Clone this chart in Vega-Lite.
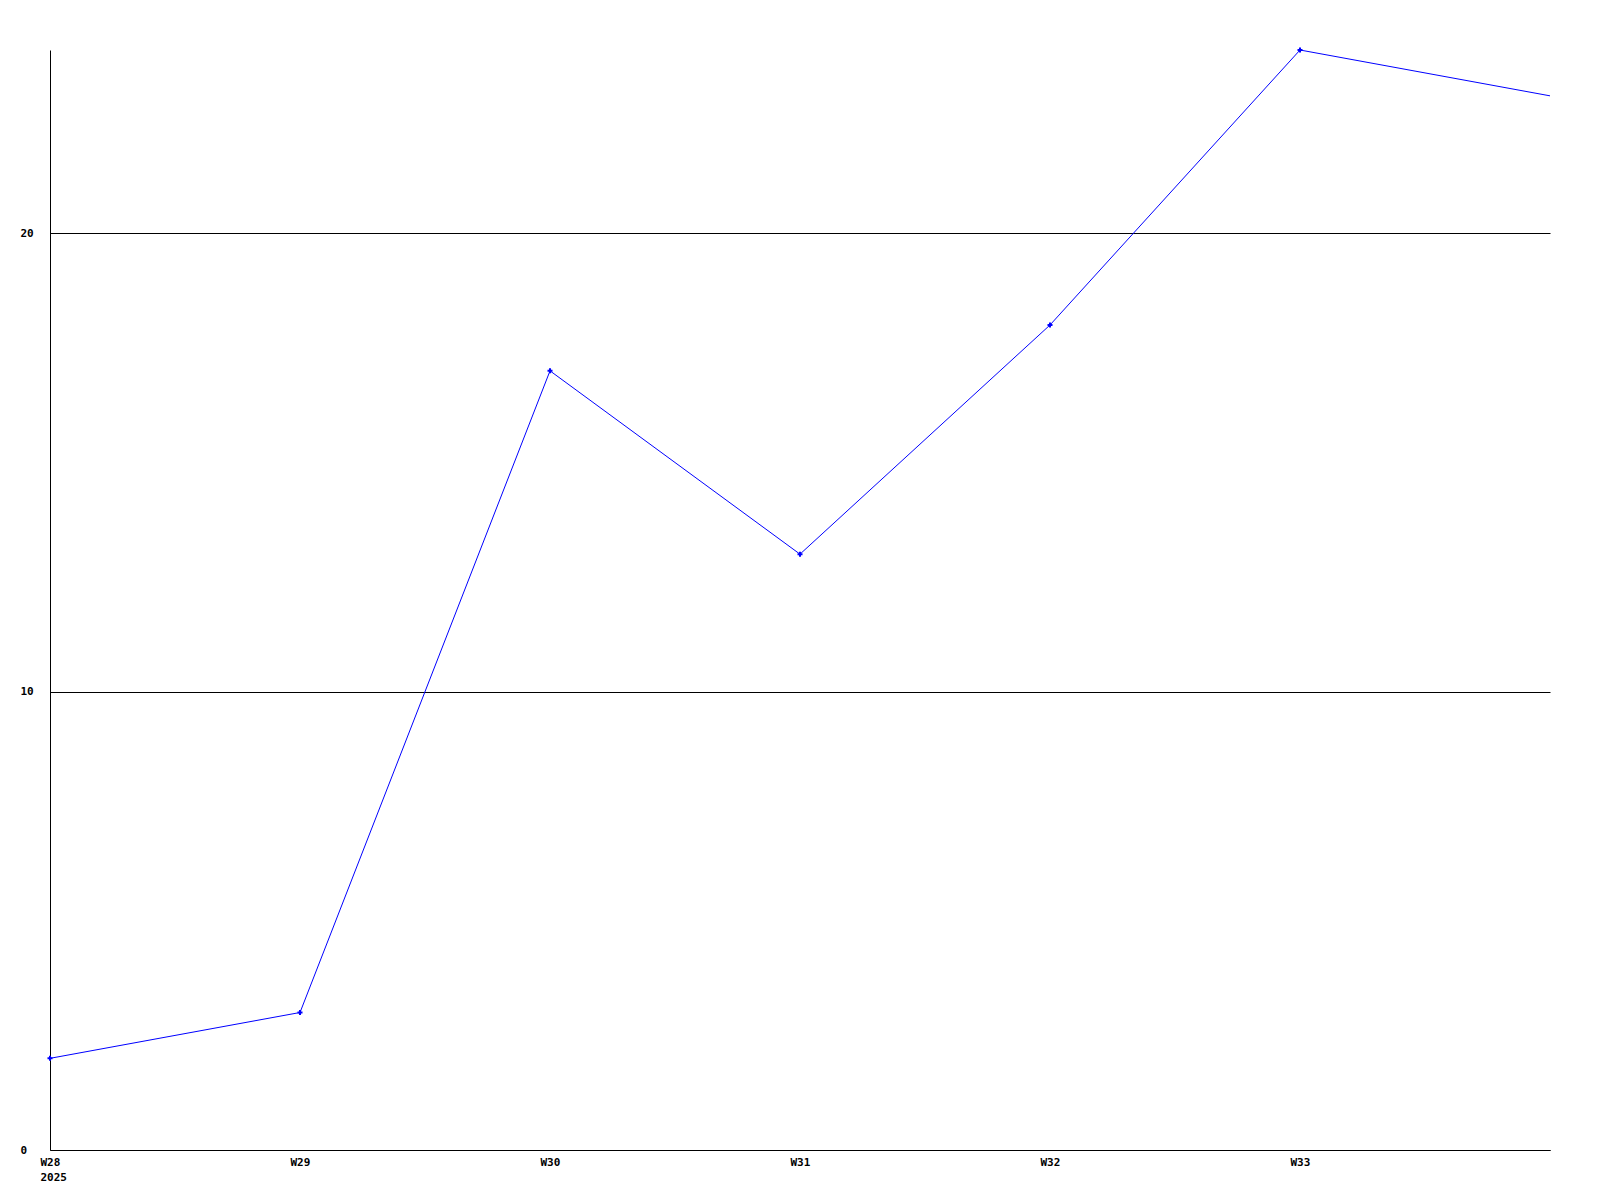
{
  "$schema": "https://vega.github.io/schema/vega-lite/v6.json",
  "autosize": {"type": "none"},
  "padding": {"left": 50, "top": 50, "right": 50, "bottom": 50},
  "width": 1500,
  "height": 1100,
  "background": "white",
  "config": {
    "view": {"stroke": null},
    "axis": {
      "labelFont": "DejaVu Sans Mono",
      "labelFontWeight": "bold",
      "labelFontSize": 11,
      "labelColor": "black",
      "domainColor": "black",
      "domainWidth": 1,
      "ticks": false,
      "title": null
    }
  },
  "data": {
    "values": [
      {"week": 28, "value": 2},
      {"week": 29, "value": 3},
      {"week": 30, "value": 17},
      {"week": 31, "value": 13},
      {"week": 32, "value": 18},
      {"week": 33, "value": 24},
      {"week": 34, "value": 23}
    ]
  },
  "encoding": {
    "x": {
      "field": "week",
      "type": "quantitative",
      "scale": {"domain": [28, 34], "nice": false, "zero": false},
      "axis": {
        "values": [28, 29, 30, 31, 32, 33],
        "grid": false,
        "labelAlign": "left",
        "labelOffset": -10,
        "labelBaseline": "top",
        "labelPadding": 6,
        "labelLineHeight": 15,
        "labelExpr": "datum.value == 28 ? ['W28', '2025'] : 'W' + datum.value",
        "labelFlush": false,
        "labelOverlap": false
      }
    },
    "y": {
      "field": "value",
      "type": "quantitative",
      "scale": {"domain": [0, 24], "nice": false},
      "axis": {
        "values": [0, 10, 20],
        "grid": true,
        "gridColor": "black",
        "gridOpacity": 1,
        "gridWidth": 1,
        "labelAlign": "left",
        "labelBaseline": "middle",
        "labelPadding": 30,
        "labelFlush": false
      }
    }
  },
  "layer": [
    {
      "mark": {"type": "line", "color": "#0000ff", "strokeWidth": 1}
    },
    {
      "transform": [{"filter": "datum.week < 34"}],
      "mark": {"type": "point", "shape": "cross", "size": 25, "filled": true, "color": "#0000ff", "opacity": 1}
    }
  ]
}
